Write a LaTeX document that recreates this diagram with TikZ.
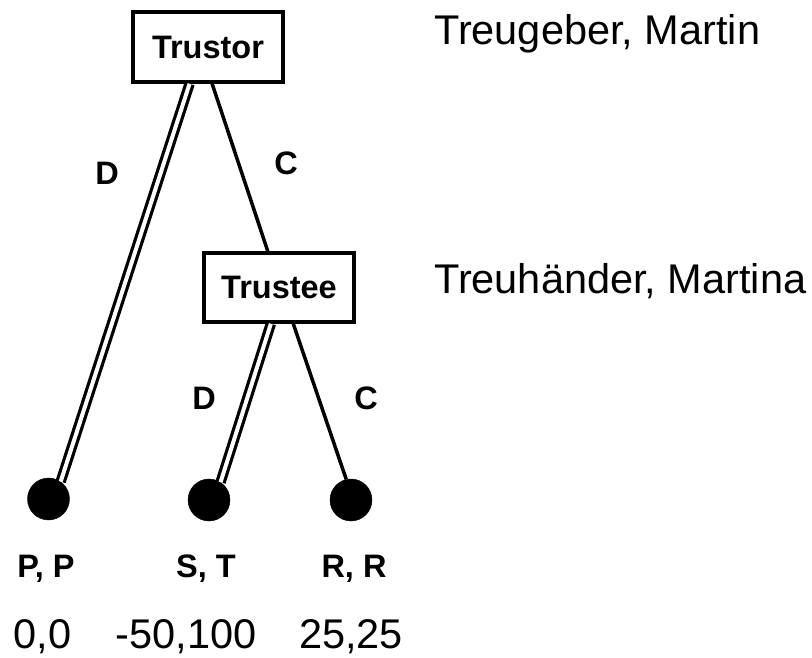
\documentclass[tikz,border=0pt]{standalone}
\usepackage{fontspec}
\setmainfont{Liberation Sans}
\usetikzlibrary{calc}
\begin{document}
\begin{tikzpicture}[x=1pt,y=-1pt,
  player/.style={draw,line width=3.5pt,minimum width=150pt,inner sep=0pt,font=\fontsize{32.5}{38}\selectfont\bfseries},
  leaf/.style={circle,fill=black,draw=black,minimum size=42pt,inner sep=0pt},
  lbl/.style={inner sep=0pt,anchor=base,font=\fontsize{32.5}{38}\selectfont\bfseries},
  big/.style={inner sep=0pt,font=\fontsize{41.5}{48}\selectfont},
  single/.style={line width=3.5pt},
  dbl/.style={double,double distance=4pt,line width=3.2pt}]
\useasboundingbox (0,0) rectangle (812,658);
\node[player,minimum height=70pt] (tor) at (208,47) {Trustor};
\node[player,minimum height=69pt] (tee) at (279,287.5) {Trustee};
\node[leaf] (pp) at (48.5,499) {};
\node[leaf] (st) at (209,500) {};
\node[leaf] (rr) at (351,500) {};
\draw[dbl] ($(tor.south west)!0.38!(tor.south east)$) -- (pp.55);
\draw[single] ($(tor.south west)!0.527!(tor.south east)$) -- ($(tee.north west)!0.427!(tee.north east)$);
\draw[dbl] ($(tee.south west)!0.447!(tee.south east)$) -- (st.57);
\draw[single] ($(tee.south west)!0.593!(tee.south east)$) -- (rr.103);
\node[lbl] (d1) at (107,185) {D};
\node[lbl] (c1) at (286,174.5) {C};
\node[lbl] (d2) at (204,409) {D};
\node[lbl] (c2) at (366,409) {C};
\node[lbl] (ppl) at (46,577) {P, P};
\node[lbl] (stl) at (206,577) {S, T};
\node[lbl] (rrl) at (354,577) {R, R};
\node[big,anchor=base] (ppn) at (42.5,648) {0,0};
\node[big,anchor=base] (stn) at (186,648) {-50,100};
\node[big,anchor=base] (rrn) at (351,648) {25,25};
\node[big,anchor=base west] (tname) at (434,45) {Treugeber, Martin};
\node[big,anchor=base west] (ename) at (434,293) {Treuhänder, Martina};
\end{tikzpicture}
\end{document}
